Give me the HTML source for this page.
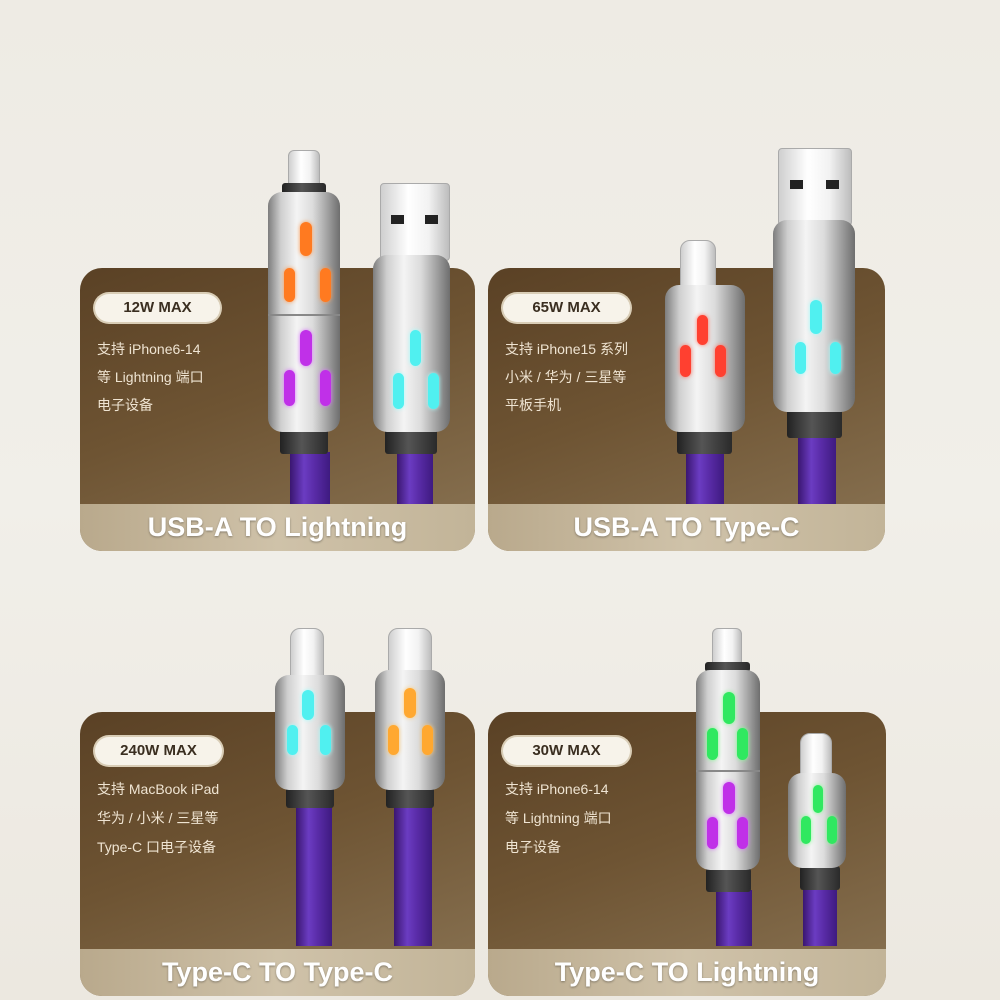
<!DOCTYPE html><html><head><meta charset="utf-8"><style>
body{margin:0;width:1000px;height:1000px;background:linear-gradient(180deg,#eeebe4,#f1efe9 50%,#ecE8e0);position:relative;overflow:hidden;font-family:"Liberation Sans","Noto Sans CJK SC",sans-serif}
div{position:absolute;box-sizing:border-box}
.card{border-radius:22px;overflow:hidden;background:linear-gradient(160deg,#5a4125 0%,#6e5433 45%,#8a7454 100%)}
.band{left:0;right:0;bottom:0;height:47px;background:linear-gradient(90deg,#b9a98c,#cfc2a9 50%,#c2b498);color:#fff;font-weight:bold;font-size:27px;text-align:center;line-height:47px;text-shadow:0 1px 2px rgba(0,0,0,.35)}
.badge{background:#f7f3ea;border-radius:15px;color:#3a2e20;font-weight:bold;font-size:15px;text-align:center;line-height:28px;height:28px;box-shadow:0 0 0 2px #d9cdb6}
.t{color:#efe4d2;font-size:14px;white-space:nowrap}
.tip{background:linear-gradient(90deg,#cfcfcf,#fff 40%,#f2f2f2 70%,#bdbdbd);border-radius:6px 6px 2px 2px;border:1px solid #aaa}
.body{background:linear-gradient(90deg,#7d7d7d,#cfcfcf 18%,#f4f4f4 40%,#dcdcdc 62%,#9a9a9a 85%,#6e6e6e);border-radius:14px}
.ring{background:linear-gradient(90deg,#222,#555 45%,#2a2a2a);border-radius:3px}
.cable{background:linear-gradient(90deg,#3a1670,#6b3cc2 35%,#5a2ca8 60%,#3e1a80)}
.led{border-radius:7px}
.o{background:#ff7a20;box-shadow:0 0 4px #ff9a50}.p{background:#c030e8;box-shadow:0 0 4px #d870ff}.c{background:#50f0f0;box-shadow:0 0 4px #a0ffff}.r{background:#ff4030;box-shadow:0 0 4px #ff7060}.y{background:#ffa830;box-shadow:0 0 4px #ffc870}.g{background:#30e860;box-shadow:0 0 4px #80ff90}
.hole{background:#222;width:13px;height:9px}
.sep{height:2px;background:#888}
</style></head><body>

<div class="card" style="left:80px;top:268px;width:395px;height:283px"><div class="band">USB-A TO Lightning</div></div>
<div class="card" style="left:488px;top:268px;width:397px;height:283px"><div class="band">USB-A TO Type-C</div></div>
<div class="card" style="left:80px;top:712px;width:395px;height:284px"><div class="band">Type-C TO Type-C</div></div>
<div class="card" style="left:488px;top:712px;width:398px;height:284px"><div class="band">Type-C TO Lightning</div></div>

<div class="badge" style="left:95px;top:294px;width:125px">12W MAX</div>
<div class="t" style="left:97px;top:339px">支持 iPhone6-14</div>
<div class="t" style="left:97px;top:367px">等 Lightning 端口</div>
<div class="t" style="left:97px;top:395px">电子设备</div>

<div class="badge" style="left:503px;top:294px;width:127px">65W MAX</div>
<div class="t" style="left:505px;top:339px">支持 iPhone15 系列</div>
<div class="t" style="left:505px;top:367px">小米 / 华为 / 三星等</div>
<div class="t" style="left:505px;top:395px">平板手机</div>

<div class="badge" style="left:95px;top:737px;width:127px">240W MAX</div>
<div class="t" style="left:97px;top:779px">支持 MacBook iPad</div>
<div class="t" style="left:97px;top:808px">华为 / 小米 / 三星等</div>
<div class="t" style="left:97px;top:837px">Type-C 口电子设备</div>

<div class="badge" style="left:503px;top:737px;width:127px">30W MAX</div>
<div class="t" style="left:505px;top:779px">支持 iPhone6-14</div>
<div class="t" style="left:505px;top:808px">等 Lightning 端口</div>
<div class="t" style="left:505px;top:837px">电子设备</div>

<!-- C1 Lightning -->
<div class="cable" style="left:290px;top:452px;width:40px;height:52px"></div>
<div class="ring" style="left:280px;top:428px;width:48px;height:26px"></div>
<div class="tip" style="left:288px;top:150px;width:32px;height:38px"></div>
<div class="ring" style="left:282px;top:183px;width:44px;height:12px"></div>
<div class="body" style="left:268px;top:192px;width:72px;height:240px"></div>
<div class="sep" style="left:268px;top:314px;width:72px"></div>
<div class="led o" style="left:300px;top:222px;width:12px;height:34px"></div>
<div class="led o" style="left:284px;top:268px;width:11px;height:34px"></div>
<div class="led o" style="left:320px;top:268px;width:11px;height:34px"></div>
<div class="led p" style="left:300px;top:330px;width:12px;height:36px"></div>
<div class="led p" style="left:284px;top:370px;width:11px;height:36px"></div>
<div class="led p" style="left:320px;top:370px;width:11px;height:36px"></div>

<!-- C1 USB-A -->
<div class="cable" style="left:397px;top:452px;width:36px;height:52px"></div>
<div class="ring" style="left:385px;top:428px;width:52px;height:26px"></div>
<div class="tip" style="left:380px;top:183px;width:70px;height:78px;border-radius:4px"></div>
<div class="hole" style="left:391px;top:215px"></div><div class="hole" style="left:425px;top:215px"></div>
<div class="body" style="left:373px;top:255px;width:77px;height:177px"></div>
<div class="led c" style="left:410px;top:330px;width:11px;height:36px"></div>
<div class="led c" style="left:393px;top:373px;width:11px;height:36px"></div>
<div class="led c" style="left:428px;top:373px;width:11px;height:36px"></div>

<!-- C2 Type-C -->
<div class="cable" style="left:686px;top:452px;width:38px;height:52px"></div>
<div class="ring" style="left:677px;top:428px;width:55px;height:26px"></div>
<div class="tip" style="left:680px;top:240px;width:36px;height:50px;border-radius:10px 10px 3px 3px"></div>
<div class="body" style="left:665px;top:285px;width:80px;height:147px"></div>
<div class="led r" style="left:697px;top:315px;width:11px;height:30px"></div>
<div class="led r" style="left:680px;top:345px;width:11px;height:32px"></div>
<div class="led r" style="left:715px;top:345px;width:11px;height:32px"></div>

<!-- C2 USB-A -->
<div class="cable" style="left:798px;top:436px;width:38px;height:68px"></div>
<div class="ring" style="left:787px;top:408px;width:55px;height:30px"></div>
<div class="tip" style="left:778px;top:148px;width:74px;height:78px;border-radius:4px"></div>
<div class="hole" style="left:790px;top:180px"></div><div class="hole" style="left:826px;top:180px"></div>
<div class="body" style="left:773px;top:220px;width:82px;height:192px"></div>
<div class="led c" style="left:810px;top:300px;width:12px;height:34px"></div>
<div class="led c" style="left:795px;top:342px;width:11px;height:32px"></div>
<div class="led c" style="left:830px;top:342px;width:11px;height:32px"></div>

<!-- C3 Type-C 1 -->
<div class="cable" style="left:296px;top:806px;width:36px;height:140px"></div>
<div class="ring" style="left:286px;top:786px;width:48px;height:22px"></div>
<div class="tip" style="left:290px;top:628px;width:34px;height:55px;border-radius:10px 10px 3px 3px"></div>
<div class="body" style="left:275px;top:675px;width:70px;height:115px"></div>
<div class="led c" style="left:302px;top:690px;width:12px;height:30px"></div>
<div class="led c" style="left:287px;top:725px;width:11px;height:30px"></div>
<div class="led c" style="left:320px;top:725px;width:11px;height:30px"></div>

<!-- C3 Type-C 2 -->
<div class="cable" style="left:394px;top:806px;width:38px;height:140px"></div>
<div class="ring" style="left:386px;top:786px;width:48px;height:22px"></div>
<div class="tip" style="left:388px;top:628px;width:44px;height:50px;border-radius:10px 10px 3px 3px"></div>
<div class="body" style="left:375px;top:670px;width:70px;height:120px"></div>
<div class="led y" style="left:404px;top:688px;width:12px;height:30px"></div>
<div class="led y" style="left:388px;top:725px;width:11px;height:30px"></div>
<div class="led y" style="left:422px;top:725px;width:11px;height:30px"></div>

<!-- C4 Lightning -->
<div class="cable" style="left:716px;top:890px;width:36px;height:56px"></div>
<div class="ring" style="left:706px;top:868px;width:45px;height:24px"></div>
<div class="tip" style="left:712px;top:628px;width:30px;height:40px"></div>
<div class="ring" style="left:705px;top:662px;width:45px;height:10px"></div>
<div class="body" style="left:696px;top:670px;width:64px;height:200px"></div>
<div class="sep" style="left:696px;top:770px;width:64px"></div>
<div class="led g" style="left:723px;top:692px;width:12px;height:32px"></div>
<div class="led g" style="left:707px;top:728px;width:11px;height:32px"></div>
<div class="led g" style="left:737px;top:728px;width:11px;height:32px"></div>
<div class="led p" style="left:723px;top:782px;width:12px;height:32px"></div>
<div class="led p" style="left:707px;top:817px;width:11px;height:32px"></div>
<div class="led p" style="left:737px;top:817px;width:11px;height:32px"></div>

<!-- C4 Type-C -->
<div class="cable" style="left:803px;top:888px;width:34px;height:58px"></div>
<div class="ring" style="left:800px;top:866px;width:40px;height:24px"></div>
<div class="tip" style="left:800px;top:733px;width:32px;height:45px;border-radius:10px 10px 3px 3px"></div>
<div class="body" style="left:788px;top:773px;width:58px;height:95px"></div>
<div class="led g" style="left:813px;top:785px;width:10px;height:28px"></div>
<div class="led g" style="left:801px;top:816px;width:10px;height:28px"></div>
<div class="led g" style="left:827px;top:816px;width:10px;height:28px"></div>

</body></html>
